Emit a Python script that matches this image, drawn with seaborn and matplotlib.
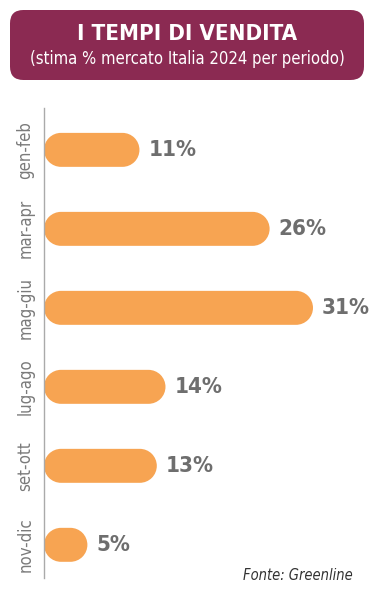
import matplotlib
matplotlib.use('Agg')
import matplotlib.pyplot as plt
import seaborn as sns
import pandas as pd
from matplotlib.patches import FancyBboxPatch, PathPatch
from matplotlib.path import Path
import numpy as np

periods = ['gen-feb', 'mar-apr', 'mag-giu', 'lug-ago', 'set-ott', 'nov-dic']
shares = [11, 26, 31, 14, 13, 5]
title = 'I TEMPI DI VENDITA'
subtitle = '(stima % mercato Italia 2024 per periodo)'
source = 'Fonte: Greenline'

df = pd.DataFrame({'period': periods, 'share': shares})

sns.set_style('white')
plt.rcParams['font.family'] = ['DejaVu Sans']
plt.rcParams['font.stretch'] = 'condensed'

bar_color = '#F7A452'
label_color = '#6E6E6E'

fig = plt.figure(figsize=(3.81, 6.04), dpi=100)
ax = fig.add_axes([44 / 381, 26 / 604, 328 / 381, 470 / 604])

sns.barplot(data=df, x='share', y='period', color=bar_color, width=0.43,
            saturation=1, ax=ax)
ax.set_xlim(0, 37.8)
ax.set_ylim(5.42, -0.53)

# swap plain bars for pill-shaped ones
fig.canvas.draw()
bb = ax.get_window_extent()
px_x = bb.width / 37.8
px_y = bb.height / 5.95


def pill(x0, y0, w, h):
    ry = h / 2
    rx = ry * px_y / px_x
    ym = y0 + ry
    right = Path.arc(-90, 90)
    left = Path.arc(90, 270)
    vr = right.vertices * [rx, ry] + [x0 + w - rx, ym]
    vl = left.vertices * [rx, ry] + [x0 + rx, ym]
    cl = left.codes.copy()
    cl[0] = Path.LINETO
    verts = np.vstack([vr, vl, vr[:1]])
    codes = np.concatenate([right.codes, cl, [Path.CLOSEPOLY]])
    return Path(verts, codes)


for p in list(ax.patches):
    x0, y0 = p.get_x(), p.get_y()
    w, h = p.get_width(), p.get_height()
    p.remove()
    ax.add_patch(PathPatch(pill(x0, y0, w, h), facecolor=bar_color,
                           edgecolor='none'))
    ax.text(w + 9 / px_x, y0 + h / 2, f'{w:.0f}%', va='center', ha='left',
            fontsize=16, fontweight='bold', color=label_color)

ax.set_xlabel('')
ax.set_ylabel('')
ax.set_xticks([])
ax.tick_params(axis='y', length=0, pad=7, labelsize=12, labelcolor='#7A7A7A')
for lbl in ax.get_yticklabels():
    lbl.set_rotation(90)
    lbl.set_va('center')
for s in ['top', 'right', 'bottom']:
    ax.spines[s].set_visible(False)
ax.spines['left'].set_color('#AAAAAA')
ax.spines['left'].set_linewidth(1)

# header box
hdr = FancyBboxPatch((10 / 381, 1 - 80 / 604), 354 / 381, 70 / 604,
                     boxstyle='round,pad=0,rounding_size=0.035',
                     mutation_aspect=381 / 604,
                     transform=fig.transFigure, facecolor='#8B2A52',
                     edgecolor='none')
fig.patches.append(hdr)
fig.text(187 / 381, 1 - 34 / 604, title, ha='center', va='center',
         fontsize=16, fontweight='bold', color='white')
fig.text(187 / 381, 1 - 59 / 604, subtitle, ha='center', va='center',
         fontsize=12, color='white')
fig.text(353 / 381, 1 - 575 / 604, source, ha='right', va='center',
         fontsize=10.5, style='italic', color='#333333')

fig.savefig('out.png', dpi=100)
